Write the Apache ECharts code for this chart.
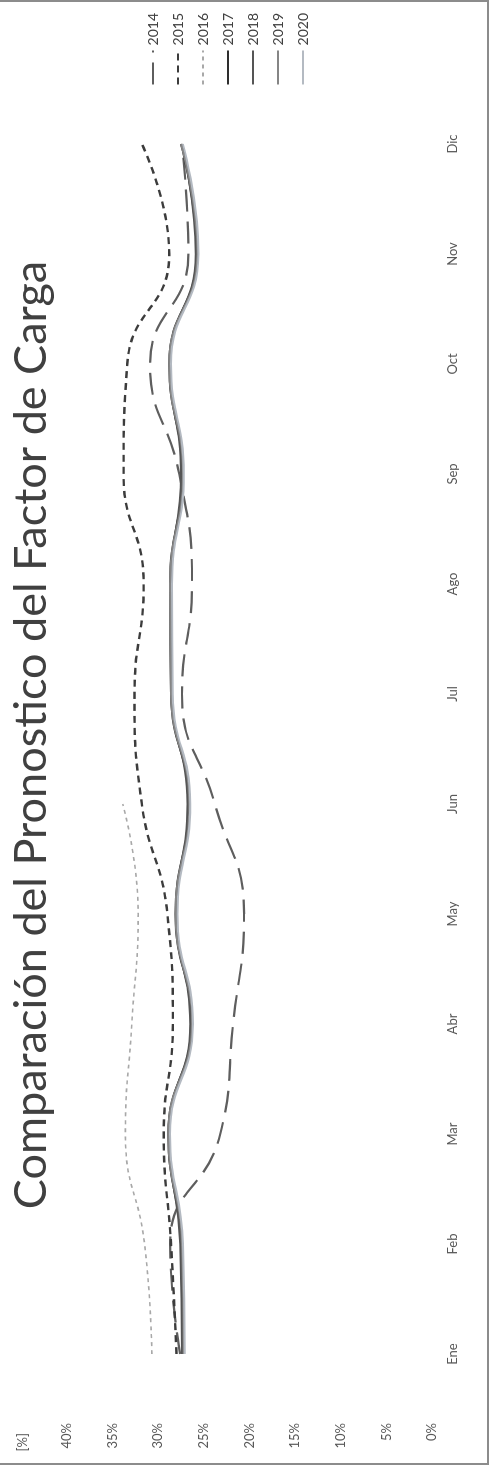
<!DOCTYPE html>
<html>
<head>
<meta charset="utf-8">
<script src="https://cdn.jsdelivr.net/npm/echarts@6/dist/echarts.min.js"></script>
<style>
  html, body { margin:0; padding:0; background:#fff; width:490px; height:1470px; overflow:hidden; }
  #chart { position:absolute; left:0; top:0; width:1470px; height:490px;
           transform-origin:0 0; transform:translate(0,1470px) rotate(-90deg); }
  #frame { position:absolute; left:-2px; top:0; width:491px; height:1465px;
           box-sizing:border-box; border:2px solid #8c8c8c; pointer-events:none; }
</style>
</head>
<body>
<div id="chart"></div>
<div id="frame"></div>
<script>
const titleText = 'Comparación del Pronostico del Factor de Carga';
const months = ['Ene','Feb','Mar','Abr','May','Jun','Jul','Ago','Sep','Oct','Nov','Dic'];
const yearNames = ['2014','2015','2016','2017','2018','2019','2020'];
const yTicks = [0, 5, 10, 15, 20, 25, 30, 35, 40];
const axisUnit = '[%]';

const v2014 = [27.6, 28.7, 23.2, 21.8, 20.6, 23.8, 27.4, 26.3, 27.7, 30.9, 26.7, 27.4];
const v2015 = [28.0, 28.6, 29.4, 28.4, 29.0, 31.8, 32.6, 31.6, 33.8, 33.4, 28.8, 31.8];
const v2016 = [30.7, 31.5, 33.6, 32.9, 32.2, 33.9, null, null, null, null, null, null];
const v2017 = [27.3, 27.5, 28.9, 26.4, 28.1, 26.7, 28.6, 28.7, 27.4, 28.8, 25.8, 27.5];
const v2018 = [27.4, 27.6, 28.8, 26.5, 28.0, 26.8, 28.5, 28.6, 27.5, 28.7, 25.9, 27.4];
const v2019 = [27.2, 27.4, 28.9, 26.3, 28.1, 26.6, 28.6, 28.7, 27.3, 28.8, 25.7, 27.5];
const v2020 = [27.1, 27.3, 28.7, 26.2, 27.9, 26.5, 28.4, 28.5, 27.2, 28.6, 25.6, 27.3];

const seriesValues = [v2014, v2015, v2016, v2017, v2018, v2019, v2020];
const styles = [
  { color:'#5e5e5e', width:2.2, type:[22, 10] },
  { color:'#3c3c3c', width:2.4, type:[7, 5] },
  { color:'#a8a8a8', width:1.6, type:[4, 4] },
  { color:'#2e2e2e', width:2.0, type:'solid' },
  { color:'#555555', width:2.0, type:'solid' },
  { color:'#858585', width:2.0, type:'solid' },
  { color:'#b4bac2', width:2.0, type:'solid' }
];

const font = 'Lato, "Open Sans", sans-serif';
const chart = echarts.init(document.getElementById('chart'), null, { renderer:'canvas' });
chart.setOption({
  animation:false,
  backgroundColor:'#ffffff',
  title:{ text:titleText, left:'center', top:4,
    textStyle:{ fontFamily:font, fontSize:45, fontWeight:'normal', color:'#404040' } },
  legend:{ orient:'vertical', right:13, top:146, padding:0, itemGap:11,
    itemWidth:34, itemHeight:14, data:yearNames,
    itemStyle:{ opacity:0 },
    textStyle:{ fontFamily:font, fontSize:14, color:'#404040' } },
  grid:{ left:61, right:89, top:67, bottom:58, outerBoundsMode:'none', containLabel:false },
  xAxis:{ type:'category', data:months, boundaryGap:true,
    axisLine:{ show:false }, axisTick:{ show:false },
    axisLabel:{ fontFamily:font, fontSize:13, color:'#595959', margin:14 } },
  yAxis:{ type:'value', min:yTicks[0], max:yTicks[yTicks.length-1], interval:5,
    name:axisUnit, nameLocation:'end', nameGap:38,
    nameTextStyle:{ fontFamily:font, fontSize:13, color:'#595959', align:'right', padding:[0,24,0,0] },
    axisLine:{ show:false }, axisTick:{ show:false }, splitLine:{ show:false },
    axisLabel:{ fontFamily:font, fontSize:13, color:'#595959', margin:14, formatter:'{value}%' } },
  series: yearNames.map((name, i) => ({
    name, type:'line', data:seriesValues[i], smooth:0.5, symbol:'none', connectNulls:false,
    lineStyle:{ color:styles[i].color, width:styles[i].width, type:styles[i].type },
    itemStyle:{ color:styles[i].color }
  }))
});
</script>
</body>
</html>
